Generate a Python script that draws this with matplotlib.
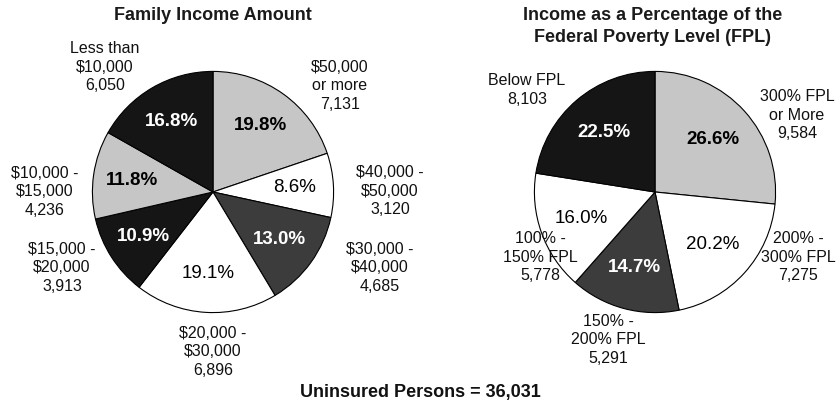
import matplotlib
matplotlib.use("Agg")
import matplotlib.pyplot as plt

plt.rcParams['font.family'] = ['Liberation Sans', 'DejaVu Sans']

# ---- data ----
income_labels = ["$50,000\nor more", "$40,000 -\n$50,000", "$30,000 -\n$40,000",
                 "$20,000 -\n$30,000", "$15,000 -\n$20,000", "$10,000 -\n$15,000",
                 "Less than\n$10,000"]
income_counts = [7131, 3120, 4685, 6896, 3913, 4236, 6050]
income_pcts = [19.8, 8.6, 13.0, 19.1, 10.9, 11.8, 16.8]

fpl_labels = ["300% FPL\nor More", "200% -\n300% FPL", "150% -\n200% FPL",
              "100% -\n150% FPL", "Below FPL"]
fpl_counts = [9584, 7275, 5291, 5778, 8103]
fpl_pcts = [26.6, 20.2, 14.7, 16.0, 22.5]

total_uninsured = "36,031"

# ---- styles ----
LIGHT, WHITE, DARK, BLACK = "#c6c6c6", "#ffffff", "#3c3c3c", "#151515"
income_colors = [LIGHT, WHITE, DARK, WHITE, BLACK, LIGHT, BLACK]
fpl_colors = [LIGHT, WHITE, DARK, WHITE, BLACK]
text_style = {LIGHT: ("black", "bold"), WHITE: ("black", "normal"),
              DARK: ("white", "bold"), BLACK: ("white", "bold")}

W, H, DPI = 839, 408, 100
fig = plt.figure(figsize=(W / DPI, H / DPI), dpi=DPI)

R = 123


def make_ax(cx, cy):
    return fig.add_axes([(cx - R) / W, 1 - (cy + R) / H, 2 * R / W, 2 * R / H])


def px(x, y):
    return x / W, 1 - y / H


def draw_pie(ax, pcts, colors, pctdist):
    wedges, _, autotexts = ax.pie(
        pcts, colors=colors, startangle=90, counterclock=False,
        autopct=lambda p: f"{p:.1f}%", pctdistance=pctdist,
        wedgeprops=dict(edgecolor="black", linewidth=0.8),
        textprops=dict(fontsize=13.5))
    for t, c in zip(autotexts, colors):
        col, wt = text_style[c]
        t.set_color(col)
        t.set_fontweight(wt)
    ax.set_xlim(-1.02, 1.02)
    ax.set_ylim(-1.02, 1.02)
    ax.set_aspect("equal")
    ax.axis("off")


ax1 = make_ax(213, 192)
draw_pie(ax1, income_pcts, income_colors, 0.68)
ax2 = make_ax(655, 192)
draw_pie(ax2, fpl_pcts, fpl_colors, 0.65)

lab_fs = 11.5
income_pos = [(340, 86), (390, 191), (380, 268), (213, 352), (62, 268), (45, 192), (105, 67)]
for lab, n, (x, y) in zip(income_labels, income_counts, income_pos):
    fig.text(*px(x, y), f"{lab}\n{n:,}", ha="center", va="center",
             fontsize=lab_fs, linespacing=1.32, color="#111111")

fpl_pos = [(797, 115), (798, 257), (608, 340), (540, 257), (527, 90)]
for lab, n, (x, y) in zip(fpl_labels, fpl_counts, fpl_pos):
    fig.text(*px(x, y), f"{lab}\n{n:,}", ha="center", va="center",
             fontsize=lab_fs, linespacing=1.32, color="#111111")

fig.text(*px(213, 15), "Family Income Amount", ha="center", va="center",
         fontsize=13, fontweight="bold", color="#1a1a1a")
fig.text(*px(653, 26.5), "Income as a Percentage of the\nFederal Poverty Level (FPL)",
         ha="center", va="center", fontsize=13, fontweight="bold",
         linespacing=1.4, color="#1a1a1a")
fig.text(*px(420, 392), f"Uninsured Persons = {total_uninsured}", ha="center",
         va="center", fontsize=13, fontweight="bold", color="#111111")

fig.savefig("out.png", dpi=DPI)
